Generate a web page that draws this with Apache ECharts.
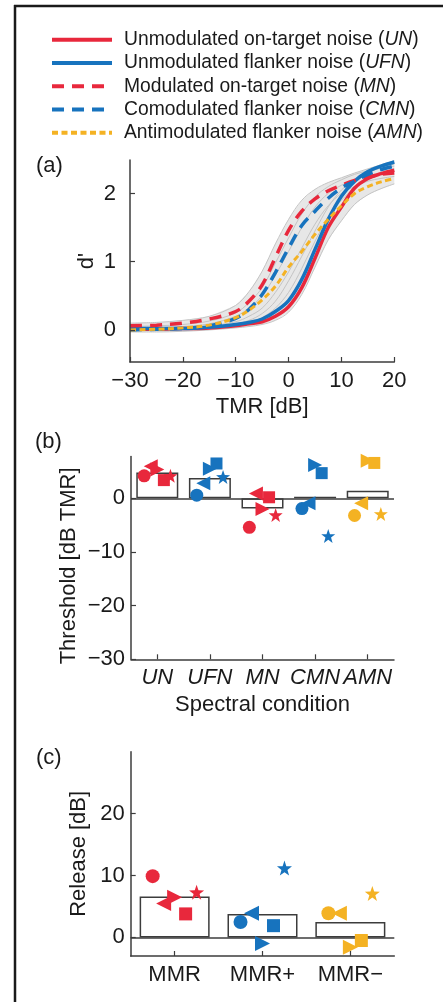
<!DOCTYPE html>
<html>
<head>
<meta charset="utf-8">
<script src="https://cdn.jsdelivr.net/npm/echarts@6/dist/echarts.min.js"></script>
<style>
html,body{margin:0;padding:0;background:#fff;}
#chart{width:443px;height:1002px;}
</style>
</head>
<body>
<div id="chart"></div>
<script>
// ---------- Panel (a): psychometric functions ----------
const tmr = [-30, -25, -20, -15, -10, -7.5, -5, -2.5, 0, 2.5, 5, 7.5, 10, 12.5, 15, 17.5, 20];
const dUN  = [0.01, 0.01, 0.02, 0.03, 0.06, 0.09, 0.12, 0.2, 0.34, 0.62, 1.05, 1.5, 1.8, 2.08, 2.22, 2.29, 2.34];
const dUFN = [0.02, 0.02, 0.02, 0.04, 0.08, 0.11, 0.16, 0.27, 0.43, 0.74, 1.18, 1.62, 1.96, 2.18, 2.32, 2.4, 2.46];
const dMN  = [0.06, 0.07, 0.1, 0.16, 0.27, 0.42, 0.66, 1.06, 1.46, 1.74, 1.92, 2.04, 2.12, 2.19, 2.24, 2.28, 2.3];
const dCMN = [0.0, 0.01, 0.02, 0.06, 0.17, 0.3, 0.52, 0.84, 1.2, 1.53, 1.74, 1.93, 2.08, 2.18, 2.28, 2.35, 2.4];
const dAMN = [0.0, 0.01, 0.03, 0.07, 0.18, 0.29, 0.44, 0.64, 0.92, 1.15, 1.4, 1.62, 1.82, 2.0, 2.1, 2.17, 2.22];
// individual listener curves (grey)
const bandLow  = [-0.03, -0.03, -0.02, 0.0, 0.03, 0.05, 0.08, 0.14, 0.26, 0.52, 0.92, 1.32, 1.6, 1.84, 1.98, 2.07, 2.14];
const bandHigh = [0.1, 0.11, 0.14, 0.2, 0.36, 0.56, 0.86, 1.26, 1.62, 1.9, 2.06, 2.16, 2.23, 2.3, 2.36, 2.42, 2.48];
const grayA = [0.05, 0.06, 0.08, 0.13, 0.25, 0.4, 0.62, 0.98, 1.35, 1.7, 1.95, 2.1, 2.2, 2.28, 2.33, 2.37, 2.4];
const grayB = [0.02, 0.03, 0.05, 0.09, 0.2, 0.32, 0.5, 0.8, 1.15, 1.5, 1.8, 2.0, 2.12, 2.2, 2.26, 2.3, 2.33];
const grayC = [0.0, 0.01, 0.03, 0.06, 0.12, 0.2, 0.32, 0.55, 0.85, 1.2, 1.55, 1.82, 2.0, 2.1, 2.18, 2.22, 2.25];
const grayD = [0.0, 0.0, 0.01, 0.03, 0.06, 0.1, 0.18, 0.32, 0.55, 0.9, 1.3, 1.65, 1.9, 2.08, 2.2, 2.3, 2.36];
const grayE = [0.03, 0.03, 0.04, 0.05, 0.09, 0.14, 0.24, 0.42, 0.72, 1.08, 1.45, 1.8, 2.05, 2.2, 2.3, 2.38, 2.43];

// ---------- Panel (b): thresholds ----------
const conditions = ['UN', 'UFN', 'MN', 'CMN', 'AMN'];
const thrMean     = [4.8, 3.8, -1.9, 0.3, 1.4];
const thrCircle   = [4.2, 0.6, -5.4, -1.9, -3.2];
const thrLeftTri  = [6.0, 2.8, 0.9, -0.9, -0.9];
const thrRightTri = [5.4, 5.5, -2.0, 6.2, 7.0];
const thrSquare   = [3.4, 6.5, 0.2, 4.7, 6.6];
const thrStar     = [4.2, 4.0, -3.1, -7.0, -2.9];

// ---------- Panel (c): release ----------
const releases    = ['MMR', 'MMR+', 'MMR\u2212'];
const relMean     = [6.6, 3.8, 2.5];
const relCircle   = [9.9, 2.5, 3.9];
const relLeftTri  = [5.5, 3.9, 3.9];
const relRightTri = [6.5, -1.0, -1.6];
const relSquare   = [3.8, 1.9, -0.5];
const relStar     = [7.3, 11.2, 7.1];

// ---------- styling ----------
const FONT = '"Liberation Sans", Arial, Helvetica, sans-serif';
const TXT = '#1a1a1a';
const AX = '#3c3c3c';
const RED = '#E8283C', BLUE = '#1773BE', YEL = '#F4B223';
const condColors = [RED, BLUE, RED, BLUE, YEL];
const relColors = [RED, BLUE, YEL];
const STAR = 'path://M0,-10 L2.35,-3.24 L9.51,-3.09 L3.8,1.24 L5.88,8.09 L0,4 L-5.88,8.09 L-3.8,1.24 L-9.51,-3.09 L-2.35,-3.24 Z';
const shapes = [
  {sym: 'circle', rot: 0, off: -0.25},
  {sym: 'triangle', rot: 90, off: -0.125},
  {sym: 'triangle', rot: -90, off: 0},
  {sym: 'rect', rot: 0, off: 0.125},
  {sym: STAR, rot: 0, off: 0.25}
];
const sizesB = [13, 14, 14, 12, 14];
const sizesC = [14, 15, 15, 13, 15];
const minus = v => (v < 0 ? '\u2212' + Math.abs(v) : String(v));
const pairs = (xs, ys) => xs.map((x, i) => [x, ys[i]]);

function axisCommon(gridIndex) {
  return {
    gridIndex,
    z: 10,
    axisLine: {show: true, onZero: false, lineStyle: {color: AX, width: 1.5}},
    axisTick: {show: true, inside: true, length: 5, lineStyle: {color: AX, width: 1.2}},
    splitLine: {show: false},
    axisLabel: {color: TXT, fontSize: 22, fontFamily: FONT},
    nameTextStyle: {color: TXT, fontSize: 22, fontFamily: FONT},
    nameMoveOverlap: false
  };
}

const series = [];
// grey band of individual curves
series.push({type: 'custom', xAxisIndex: 0, yAxisIndex: 0, data: [[0, 0]], silent: true, z: 1,
  renderItem: (params, api) => {
    const top = tmr.map((x, i) => api.coord([x, bandHigh[i]]));
    const bot = tmr.map((x, i) => api.coord([x, bandLow[i]])).reverse();
    return {type: 'polygon', shape: {points: top.concat(bot)}, style: {fill: '#e7e7e7', stroke: null}};
  }});
[bandLow, bandHigh, grayA, grayB, grayC, grayD, grayE].forEach(arr => {
  series.push({type: 'line', xAxisIndex: 0, yAxisIndex: 0, data: pairs(tmr, arr), symbol: 'none', smooth: 0.35,
    lineStyle: {color: '#c4c4c4', width: 1}, silent: true, z: 2});
});
const mainCurves = [
  {name: 'Unmodulated on-target noise (UN)', d: dUN, color: RED, type: 'solid', w: 3.5},
  {name: 'Unmodulated flanker noise (UFN)', d: dUFN, color: BLUE, type: 'solid', w: 3.5},
  {name: 'Modulated on-target noise (MN)', d: dMN, color: RED, type: [12, 8], w: 3.5},
  {name: 'Comodulated flanker noise (CMN)', d: dCMN, color: BLUE, type: [12, 8], w: 3.5},
  {name: 'Antimodulated flanker noise (AMN)', d: dAMN, color: YEL, type: [6, 3.5], w: 3}
];
mainCurves.forEach((c, k) => {
  series.push({type: 'line', name: c.name, xAxisIndex: 0, yAxisIndex: 0, data: pairs(tmr, c.d),
    symbol: 'none', smooth: 0.35, color: c.color,
    lineStyle: {color: c.color, width: c.w, type: c.type, cap: 'butt'}, itemStyle: {color: c.color}, z: 3 + k});
});

// panel (b) bars + markers
series.push({type: 'bar', xAxisIndex: 1, yAxisIndex: 1, barWidth: 42,
  data: thrMean.map((v, i) => [i + 1, v]),
  itemStyle: {color: '#ffffff', borderColor: AX, borderWidth: 1.5}, silent: true, z: 2,
  markLine: {silent: true, symbol: ['none', 'none'], label: {show: false},
    lineStyle: {color: AX, width: 1.5, type: 'solid'}, data: [{yAxis: 0}]}});
const thrSets = [thrCircle, thrLeftTri, thrRightTri, thrSquare, thrStar];
thrSets.forEach((vals, s) => {
  const sh = shapes[s];
  series.push({type: 'scatter', xAxisIndex: 1, yAxisIndex: 1, symbol: sh.sym, symbolRotate: sh.rot,
    symbolSize: sizesB[s],
    data: vals.map((v, i) => ({value: [i + 1 + sh.off, v], itemStyle: {color: condColors[i], opacity: 1}})),
    itemStyle: {opacity: 1},
    silent: true, z: 5});
});

// panel (c) bars + markers
series.push({type: 'bar', xAxisIndex: 2, yAxisIndex: 2, barWidth: 70,
  data: relMean.map((v, i) => [i + 1, v]),
  itemStyle: {color: '#ffffff', borderColor: AX, borderWidth: 1.5}, silent: true, z: 2,
  markLine: {silent: true, symbol: ['none', 'none'], label: {show: false},
    lineStyle: {color: AX, width: 1.5, type: 'solid'}, data: [{yAxis: 0}]}});
const relSets = [relCircle, relLeftTri, relRightTri, relSquare, relStar];
relSets.forEach((vals, s) => {
  const sh = shapes[s];
  series.push({type: 'scatter', xAxisIndex: 2, yAxisIndex: 2, symbol: sh.sym, symbolRotate: sh.rot,
    symbolSize: sizesC[s],
    data: vals.map((v, i) => ({value: [i + 1 + sh.off, v], itemStyle: {color: relColors[i], opacity: 1}})),
    itemStyle: {opacity: 1},
    silent: true, z: 5});
});

const option = {
  animation: false,
  backgroundColor: '#ffffff',
  textStyle: {fontFamily: FONT},
  legend: {
    data: mainCurves.map(c => c.name),
    orient: 'vertical', left: 50, top: 28, padding: 0,
    itemWidth: 60, itemHeight: 14, itemGap: 0,
    selectedMode: false,
    itemStyle: {opacity: 0},
    lineStyle: {width: 4},
    formatter: n => n.replace(/\((\w+)\)/, '({i|$1})'),
    textStyle: {color: TXT, fontSize: 19.3, fontFamily: FONT, lineHeight: 23.3, padding: [0, 0, 0, 7],
      rich: {i: {fontStyle: 'italic', color: TXT, fontSize: 19.3, fontFamily: FONT, lineHeight: 23.3}}}
  },
  grid: [
    {left: 130, top: 160, width: 264.3, height: 202, outerBoundsMode: 'none', containLabel: false},
    {left: 131, top: 456.5, width: 263, height: 202.8, outerBoundsMode: 'none', containLabel: false},
    {left: 130.7, top: 751.7, width: 263.6, height: 204.3, outerBoundsMode: 'none', containLabel: false}
  ],
  xAxis: [
    Object.assign(axisCommon(0), {type: 'value', min: -30, max: 20, interval: 10,
      name: 'TMR [dB]', nameLocation: 'middle', nameGap: 34,
      axisLabel: {color: TXT, fontSize: 22, fontFamily: FONT, margin: 8, formatter: minus}}),
    Object.assign(axisCommon(1), {type: 'value', min: 0.5, max: 5.5,
      name: 'Spectral condition', nameLocation: 'middle', nameGap: 35,
      axisTick: {show: true, inside: true, length: 5, lineStyle: {color: AX, width: 1.2}, customValues: [1, 2, 3, 4, 5]},
      axisLabel: {color: TXT, fontSize: 22, fontFamily: FONT, fontStyle: 'italic', margin: 8,
        customValues: [1, 2, 3, 4, 5], formatter: v => conditions[Math.round(v) - 1]}}),
    Object.assign(axisCommon(2), {type: 'value', min: 0.5, max: 3.5,
      axisTick: {show: true, inside: true, length: 5, lineStyle: {color: AX, width: 1.2}, customValues: [1, 2, 3]},
      axisLabel: {color: TXT, fontSize: 22, fontFamily: FONT, margin: 8,
        customValues: [1, 2, 3], formatter: v => releases[Math.round(v) - 1]}})
  ],
  yAxis: [
    Object.assign(axisCommon(0), {type: 'value', min: -0.47, max: 2.49,
      name: "d'", nameLocation: 'middle', nameGap: 32, nameRotate: 90,
      axisTick: {show: true, inside: true, length: 5, lineStyle: {color: AX, width: 1.2}, customValues: [0, 1, 2]},
      axisLabel: {color: TXT, fontSize: 22, fontFamily: FONT, margin: 14, customValues: [0, 1, 2], formatter: minus}}),
    Object.assign(axisCommon(1), {type: 'value', min: -30, max: 7.8,
      name: 'Threshold [dB TMR]', nameLocation: 'middle', nameGap: 51, nameRotate: 90,
      nameTextStyle: {color: TXT, fontSize: 22, fontFamily: FONT, padding: [0, 16, 0, 0]},
      axisTick: {show: true, inside: true, length: 5, lineStyle: {color: AX, width: 1.2}, customValues: [-30, -20, -10, 0]},
      axisLabel: {color: TXT, fontSize: 22, fontFamily: FONT, margin: 6, customValues: [-30, -20, -10, 0], formatter: minus}}),
    Object.assign(axisCommon(2), {type: 'value', min: -3, max: 30,
      name: 'Release [dB]', nameLocation: 'middle', nameGap: 41, nameRotate: 90,
      axisTick: {show: true, inside: true, length: 5, lineStyle: {color: AX, width: 1.2}, customValues: [0, 10, 20]},
      axisLabel: {color: TXT, fontSize: 22, fontFamily: FONT, margin: 6, customValues: [0, 10, 20], formatter: minus}})
  ],
  graphic: [
    {type: 'line', silent: true, shape: {x1: 15, y1: 5, x2: 15, y2: 1002}, style: {stroke: '#1a1a1a', lineWidth: 2.5}},
    {type: 'line', silent: true, shape: {x1: 14, y1: 6, x2: 443, y2: 6}, style: {stroke: '#1a1a1a', lineWidth: 2.5}},
    {type: 'text', silent: true, x: 36, y: 166, style: {text: '(a)', fontSize: 22, fontFamily: FONT, fill: TXT, verticalAlign: 'middle'}},
    {type: 'text', silent: true, x: 35, y: 442, style: {text: '(b)', fontSize: 22, fontFamily: FONT, fill: TXT, verticalAlign: 'middle'}},
    {type: 'text', silent: true, x: 36, y: 758, style: {text: '(c)', fontSize: 22, fontFamily: FONT, fill: TXT, verticalAlign: 'middle'}}
  ],
  series
};

const chart = echarts.init(document.getElementById('chart'), null, {renderer: 'canvas'});
chart.setOption(option);
</script>
</body>
</html>
